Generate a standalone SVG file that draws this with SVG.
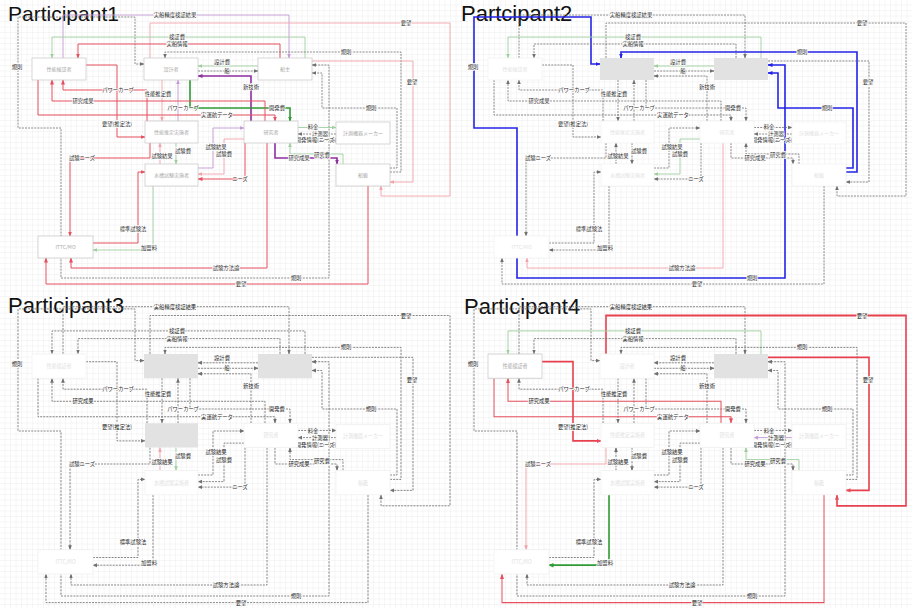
<svg xmlns="http://www.w3.org/2000/svg" width="912" height="608" viewBox="0 0 912 608">
<style>
.tt{font-family:"Liberation Sans",Arial,sans-serif;font-size:21px;fill:#111}
.tt2{font-family:"Liberation Sans",Arial,sans-serif;font-size:22px;fill:#111}
.ln{fill:none}
.gd{stroke:#707070;stroke-width:.8;stroke-dasharray:2 1.1;marker-end:url(#mGray)}
.red{stroke:#e6505e;stroke-width:1;marker-end:url(#mRed)}
.redb{stroke:#e8404f;stroke-width:1.6;marker-end:url(#mRed)}
.pink{stroke:#f2a3ab;stroke-width:.9;marker-end:url(#mPink)}
.grn{stroke:#2e9b33;stroke-width:1.6;marker-end:url(#mGreen)}
.lgrn{stroke:#9fcf9f;stroke-width:.9;marker-end:url(#mLGreen)}
.pur{stroke:#8e2ea0;stroke-width:1.6;marker-end:url(#mPurple)}
.lpur{stroke:#c29ad6;stroke-width:.9;marker-end:url(#mLPurple)}
.blue{stroke:#2323e6;stroke-width:1.6;marker-end:url(#mBlue)}
.sg{marker-start:url(#mGray)}
.sb{marker-start:url(#mBlue)}
.lb{font-family:"Noto Sans CJK JP","Noto Sans",sans-serif;font-size:5.3px;fill:#2a2a2a;text-anchor:middle;stroke:#fff;stroke-width:1.5px;paint-order:stroke;stroke-linejoin:round}
.nt{font-family:"Noto Sans CJK JP","Noto Sans",sans-serif;font-size:5px;text-anchor:middle}
.nd rect{fill:#fff;stroke:#c6c6c6;stroke-width:.7}
.nd text{fill:#a8a8a8}
.nf rect{fill:#fff;stroke:#f0f0f0;stroke-width:.7}
.nf text{fill:#e2e2e2}
.ng rect{fill:#e2e2e2;stroke:none}
</style>
<defs>
<pattern id="grid" width="5.5" height="5.5" patternUnits="userSpaceOnUse"><path d="M5.5 0V5.5H0" fill="none" stroke="#e4e4e4" stroke-width=".6"/></pattern>
<marker id="mGray" viewBox="0 0 10 10" refX="9" refY="5" markerWidth="4.5" markerHeight="4.5" markerUnits="userSpaceOnUse" orient="auto-start-reverse"><path d="M0 1L10 5L0 9z" fill="#707070"/></marker>
<marker id="mRed" viewBox="0 0 10 10" refX="9" refY="5" markerWidth="5" markerHeight="5" markerUnits="userSpaceOnUse" orient="auto-start-reverse"><path d="M0 1L10 5L0 9z" fill="#e6505e"/></marker>
<marker id="mPink" viewBox="0 0 10 10" refX="9" refY="5" markerWidth="4.5" markerHeight="4.5" markerUnits="userSpaceOnUse" orient="auto-start-reverse"><path d="M0 1L10 5L0 9z" fill="#f2a3ab"/></marker>
<marker id="mGreen" viewBox="0 0 10 10" refX="9" refY="5" markerWidth="5" markerHeight="5" markerUnits="userSpaceOnUse" orient="auto-start-reverse"><path d="M0 1L10 5L0 9z" fill="#2e9b33"/></marker>
<marker id="mLGreen" viewBox="0 0 10 10" refX="9" refY="5" markerWidth="4.5" markerHeight="4.5" markerUnits="userSpaceOnUse" orient="auto-start-reverse"><path d="M0 1L10 5L0 9z" fill="#9fcf9f"/></marker>
<marker id="mPurple" viewBox="0 0 10 10" refX="9" refY="5" markerWidth="5" markerHeight="5" markerUnits="userSpaceOnUse" orient="auto-start-reverse"><path d="M0 1L10 5L0 9z" fill="#8e2ea0"/></marker>
<marker id="mLPurple" viewBox="0 0 10 10" refX="9" refY="5" markerWidth="4.5" markerHeight="4.5" markerUnits="userSpaceOnUse" orient="auto-start-reverse"><path d="M0 1L10 5L0 9z" fill="#c29ad6"/></marker>
<marker id="mBlue" viewBox="0 0 10 10" refX="9" refY="5" markerWidth="5" markerHeight="5" markerUnits="userSpaceOnUse" orient="auto-start-reverse"><path d="M0 1L10 5L0 9z" fill="#2323e6"/></marker>
<path id="c1" d="M63 58V15H289V58"/>
<path id="c2" d="M312 65H329V278H61V128H18V17H135V64H144"/>
<path id="c3" d="M150 58V23H450V196H381V186"/>
<path id="c4" d="M305 58V37H52V58"/>
<path id="c5" d="M280 58V44H78V58"/>
<path id="c6" d="M390 172H401V52H165V58"/>
<path id="c7" d="M258 66H198"/>
<path id="c8" d="M198 71H258"/>
<path id="c9" d="M251 121V76H198"/>
<path id="c10" d="M312 61H413V182H390"/>
<path id="c11" d="M390 168H397V108H322V73H312"/>
<path id="c12" d="M147 121V90H63V80"/>
<path id="c13" d="M162 80V121"/>
<path id="c14" d="M178 121V80"/>
<path id="c15" d="M190 80V108H290V121"/>
<path id="c16" d="M265 121V101H52V80"/>
<path id="c17" d="M38 80V115H275V121"/>
<path id="c18" d="M86 65H117V137H145"/>
<path id="c19" d="M298 127.5H336"/>
<path id="c20" d="M336 134H298"/>
<path id="c21" d="M298 140.5H336"/>
<path id="c22" d="M275 143V158H337V164"/>
<path id="c23" d="M343 164V154H290V143"/>
<path id="c24" d="M150 143V158H70V236"/>
<path id="c25" d="M160 164V143"/>
<path id="c26" d="M176 143V164"/>
<path id="c27" d="M198 168H213V128H244"/>
<path id="c28" d="M244 139H224V174H198"/>
<path id="c29" d="M245 143V179H198"/>
<path id="c30" d="M93 243H138V172H145"/>
<path id="c31" d="M153 186V250H93"/>
<path id="c32" d="M267 143V268H71V258"/>
<path id="c33" d="M368 186V284H46V258"/>
</defs>
<rect width="912" height="608" fill="#fff"/>
<rect width="912" height="608" fill="url(#grid)"/>

<!-- ================= PANEL 1 ================= -->
<g id="panel1">
<text class="tt" x="8" y="21">Participant1</text>
<g id="p1-connectors">
<use href="#c1" class="ln lpur"/><use href="#c2" class="ln gd sg"/><use href="#c3" class="ln pink"/><use href="#c4" class="ln lgrn"/><use href="#c5" class="ln red"/><use href="#c6" class="ln gd"/><use href="#c7" class="ln lgrn"/><use href="#c8" class="ln gd"/><use href="#c9" class="ln pur"/><use href="#c10" class="ln pink"/><use href="#c11" class="ln gd"/><use href="#c12" class="ln red"/><use href="#c13" class="ln pink"/><use href="#c14" class="ln lpur"/><use href="#c15" class="ln grn"/><use href="#c16" class="ln red"/><use href="#c17" class="ln red"/><use href="#c18" class="ln red"/><use href="#c19" class="ln lgrn"/><use href="#c20" class="ln gd"/><use href="#c21" class="ln gd"/><use href="#c22" class="ln pur"/><use href="#c23" class="ln lgrn"/><use href="#c24" class="ln red"/><use href="#c25" class="ln pink"/><use href="#c26" class="ln lgrn"/><use href="#c27" class="ln lpur"/><use href="#c28" class="ln pink"/><use href="#c29" class="ln red"/><use href="#c30" class="ln red"/><use href="#c31" class="ln lgrn"/><use href="#c32" class="ln red"/><use href="#c33" class="ln red"/>
<text class="lb" x="175" y="16.9">実船精度検証結果</text><text class="lb" x="406" y="24.9">要望</text><text class="lb" x="177" y="38.9">検証費</text><text class="lb" x="177" y="45.9">実船情報</text><text class="lb" x="346" y="53.9">規則</text><text class="lb" x="222" y="63.9">設計費</text><text class="lb" x="227" y="72.9">船</text><text class="lb" x="17" y="68.9">規則</text><text class="lb" x="251" y="88.9">新技術</text><text class="lb" x="412" y="83.9">要望</text><text class="lb" x="118" y="91.9">パワーカーブ</text><text class="lb" x="158" y="95.9">性能推定費</text><text class="lb" x="83" y="102.9">研究成果</text><text class="lb" x="183" y="109.9">パワーカーブ</text><text class="lb" x="277" y="109.9">開発費</text><text class="lb" x="371" y="109.9">規則</text><text class="lb" x="217" y="116.9">実運航データ</text><text class="lb" x="117" y="125.9">要望(推定法)</text><text class="lb" x="313" y="129.4">料金</text><text class="lb" x="320" y="135.9">計測器</text><text class="lb" x="316" y="142.4">開発情報(ニーズ)</text><text class="lb" x="216" y="148.9">試験結果</text><text class="lb" x="224" y="155.9">試験費</text><text class="lb" x="183" y="152.9">試験費</text><text class="lb" x="162" y="157.9">試験結果</text><text class="lb" x="322" y="156.9">研究費</text><text class="lb" x="299" y="159.9">研究成果</text><text class="lb" x="82" y="159.9">試験ニーズ</text><text class="lb" x="240" y="180.9">ニーズ</text><text class="lb" x="133" y="230.9">標準試験法</text><text class="lb" x="149" y="249.9">加盟料</text><text class="lb" x="226" y="269.9">試験方法論</text><text class="lb" x="296" y="279.9">規則</text><text class="lb" x="241" y="285.9">要望</text>
</g>
<g id="p1-kensho" class="nd"><rect x="32" y="58" width="54" height="22"/><text class="nt" x="59" y="70.7">性能検証者</text></g>
<g id="p1-sekkei" class="nd"><rect x="144" y="58" width="54" height="22"/><text class="nt" x="171" y="70.7">設計者</text></g>
<g id="p1-senshu" class="nd"><rect x="258" y="58" width="54" height="22"/><text class="nt" x="285" y="70.7">船主</text></g>
<g id="p1-suitei" class="nd"><rect x="145" y="121" width="53" height="22"/><text class="nt" x="171.5" y="133.7">性能推定実施者</text></g>
<g id="p1-kenkyu" class="nd"><rect x="244" y="121" width="54" height="22"/><text class="nt" x="271" y="133.7">研究者</text></g>
<g id="p1-keisoku" class="nd"><rect x="336" y="122" width="54" height="22"/><text class="nt" x="363" y="134.7">計測機器メーカー</text></g>
<g id="p1-suiso" class="nd"><rect x="145" y="164" width="53" height="22"/><text class="nt" x="171.5" y="176.7">水槽試験実施者</text></g>
<g id="p1-senkyu" class="nd"><rect x="336" y="164" width="54" height="22"/><text class="nt" x="363" y="176.7">船級</text></g>
<g id="p1-ittc" class="nd"><rect x="38" y="236" width="55" height="22"/><text class="nt" x="65.5" y="248.7">ITTC/MO</text></g>
</g>

<!-- ================= PANEL 2 ================= -->
<g id="panel2" transform="translate(456,0)">
<text class="tt2" x="5" y="21">Partcipant2</text>
<g id="p2-connectors">
<use href="#c1" class="ln gd"/><use href="#c2" class="ln blue sb"/><use href="#c3" class="ln gd"/><use href="#c4" class="ln lgrn"/><use href="#c5" class="ln gd"/><use href="#c6" class="ln blue"/><use href="#c7" class="ln lgrn"/><use href="#c8" class="ln gd"/><use href="#c9" class="ln gd"/><use href="#c10" class="ln gd"/><use href="#c11" class="ln blue"/><use href="#c12" class="ln gd"/><use href="#c13" class="ln gd"/><use href="#c14" class="ln gd"/><use href="#c15" class="ln gd"/><use href="#c16" class="ln gd"/><use href="#c17" class="ln gd"/><use href="#c18" class="ln gd"/><use href="#c19" class="ln gd"/><use href="#c20" class="ln gd"/><use href="#c21" class="ln gd"/><use href="#c22" class="ln gd"/><use href="#c23" class="ln gd"/><use href="#c24" class="ln gd"/><use href="#c25" class="ln gd"/><use href="#c26" class="ln gd"/><use href="#c27" class="ln gd"/><use href="#c28" class="ln lgrn"/><use href="#c29" class="ln gd"/><use href="#c30" class="ln gd"/><use href="#c31" class="ln gd"/><use href="#c32" class="ln pink"/><use href="#c33" class="ln gd"/>
<text class="lb" x="175" y="16.9">実船精度検証結果</text><text class="lb" x="406" y="24.9">要望</text><text class="lb" x="177" y="38.9">検証費</text><text class="lb" x="177" y="45.9">実船情報</text><text class="lb" x="346" y="53.9">規則</text><text class="lb" x="222" y="63.9">設計費</text><text class="lb" x="227" y="72.9">船</text><text class="lb" x="17" y="68.9">規則</text><text class="lb" x="251" y="88.9">新技術</text><text class="lb" x="412" y="83.9">要望</text><text class="lb" x="118" y="91.9">パワーカーブ</text><text class="lb" x="158" y="95.9">性能推定費</text><text class="lb" x="83" y="102.9">研究成果</text><text class="lb" x="183" y="109.9">パワーカーブ</text><text class="lb" x="277" y="109.9">開発費</text><text class="lb" x="371" y="109.9">規則</text><text class="lb" x="217" y="116.9">実運航データ</text><text class="lb" x="117" y="125.9">要望(推定法)</text><text class="lb" x="313" y="129.4">料金</text><text class="lb" x="320" y="135.9">計測器</text><text class="lb" x="316" y="142.4">開発情報(ニーズ)</text><text class="lb" x="216" y="148.9">試験結果</text><text class="lb" x="224" y="155.9">試験費</text><text class="lb" x="183" y="152.9">試験費</text><text class="lb" x="162" y="157.9">試験結果</text><text class="lb" x="322" y="156.9">研究費</text><text class="lb" x="299" y="159.9">研究成果</text><text class="lb" x="82" y="159.9">試験ニーズ</text><text class="lb" x="240" y="180.9">ニーズ</text><text class="lb" x="133" y="230.9">標準試験法</text><text class="lb" x="149" y="249.9">加盟料</text><text class="lb" x="226" y="269.9">試験方法論</text><text class="lb" x="296" y="279.9">規則</text><text class="lb" x="241" y="285.9">要望</text>
</g>
<g id="p2-kensho" class="nf"><rect x="32" y="58" width="54" height="22"/><text class="nt" x="59" y="70.7">性能検証者</text></g>
<g id="p2-sekkei" class="ng"><rect x="144" y="58" width="54" height="22"/></g>
<g id="p2-senshu" class="ng"><rect x="258" y="58" width="54" height="22"/></g>
<g id="p2-suitei" class="nf"><rect x="145" y="121" width="53" height="22"/><text class="nt" x="171.5" y="133.7">性能推定実施者</text></g>
<g id="p2-kenkyu" class="nf"><rect x="244" y="121" width="54" height="22"/><text class="nt" x="271" y="133.7">研究者</text></g>
<g id="p2-keisoku" class="nf"><rect x="336" y="122" width="54" height="22"/><text class="nt" x="363" y="134.7">計測機器メーカー</text></g>
<g id="p2-suiso" class="nf"><rect x="145" y="164" width="53" height="22"/><text class="nt" x="171.5" y="176.7">水槽試験実施者</text></g>
<g id="p2-senkyu" class="nf"><rect x="336" y="164" width="54" height="22"/><text class="nt" x="363" y="176.7">船級</text></g>
<g id="p2-ittc" class="nf"><rect x="38" y="236" width="55" height="22"/><text class="nt" x="65.5" y="248.7">ITTC/MO</text></g>
</g>

<!-- ================= PANEL 3 ================= -->
<g id="panel3" transform="translate(0,296)">
<text class="tt2" x="8" y="17">Participant3</text>
<g transform="matrix(1 0 0 1.1 0 -5.8)">
<g id="p3-connectors">
<use href="#c1" class="ln gd"/><use href="#c2" class="ln gd sg"/><use href="#c3" class="ln gd"/><use href="#c4" class="ln gd"/><use href="#c5" class="ln gd"/><use href="#c6" class="ln gd"/><use href="#c7" class="ln gd"/><use href="#c8" class="ln gd"/><use href="#c9" class="ln gd"/><use href="#c10" class="ln gd"/><use href="#c11" class="ln gd"/><use href="#c12" class="ln gd"/><use href="#c13" class="ln gd"/><use href="#c14" class="ln gd"/><use href="#c15" class="ln gd"/><use href="#c16" class="ln gd"/><use href="#c17" class="ln gd"/><use href="#c18" class="ln gd"/><use href="#c19" class="ln gd"/><use href="#c20" class="ln gd"/><use href="#c21" class="ln gd"/><use href="#c22" class="ln gd"/><use href="#c23" class="ln gd"/><use href="#c24" class="ln gd"/><use href="#c25" class="ln pink"/><use href="#c26" class="ln lgrn"/><use href="#c27" class="ln gd"/><use href="#c28" class="ln gd"/><use href="#c29" class="ln gd"/><use href="#c30" class="ln gd"/><use href="#c31" class="ln gd"/><use href="#c32" class="ln gd"/><use href="#c33" class="ln gd"/>
<text class="lb" x="175" y="16.9">実船精度検証結果</text><text class="lb" x="406" y="24.9">要望</text><text class="lb" x="177" y="38.9">検証費</text><text class="lb" x="177" y="45.9">実船情報</text><text class="lb" x="346" y="53.9">規則</text><text class="lb" x="222" y="63.9">設計費</text><text class="lb" x="227" y="72.9">船</text><text class="lb" x="17" y="68.9">規則</text><text class="lb" x="251" y="88.9">新技術</text><text class="lb" x="412" y="83.9">要望</text><text class="lb" x="118" y="91.9">パワーカーブ</text><text class="lb" x="158" y="95.9">性能推定費</text><text class="lb" x="83" y="102.9">研究成果</text><text class="lb" x="183" y="109.9">パワーカーブ</text><text class="lb" x="277" y="109.9">開発費</text><text class="lb" x="371" y="109.9">規則</text><text class="lb" x="217" y="116.9">実運航データ</text><text class="lb" x="117" y="125.9">要望(推定法)</text><text class="lb" x="313" y="129.4">料金</text><text class="lb" x="320" y="135.9">計測器</text><text class="lb" x="316" y="142.4">開発情報(ニーズ)</text><text class="lb" x="216" y="148.9">試験結果</text><text class="lb" x="224" y="155.9">試験費</text><text class="lb" x="183" y="152.9">試験費</text><text class="lb" x="162" y="157.9">試験結果</text><text class="lb" x="322" y="156.9">研究費</text><text class="lb" x="299" y="159.9">研究成果</text><text class="lb" x="82" y="159.9">試験ニーズ</text><text class="lb" x="240" y="180.9">ニーズ</text><text class="lb" x="133" y="230.9">標準試験法</text><text class="lb" x="149" y="249.9">加盟料</text><text class="lb" x="226" y="269.9">試験方法論</text><text class="lb" x="296" y="279.9">規則</text><text class="lb" x="241" y="285.9">要望</text>
</g>
<g id="p3-kensho" class="nf"><rect x="32" y="58" width="54" height="22"/><text class="nt" x="59" y="70.7">性能検証者</text></g>
<g id="p3-sekkei" class="ng"><rect x="144" y="58" width="54" height="22"/></g>
<g id="p3-senshu" class="ng"><rect x="258" y="58" width="54" height="22"/></g>
<g id="p3-suitei" class="ng"><rect x="145" y="121" width="53" height="22"/></g>
<g id="p3-kenkyu" class="nf"><rect x="244" y="121" width="54" height="22"/><text class="nt" x="271" y="133.7">研究者</text></g>
<g id="p3-keisoku" class="nf"><rect x="336" y="122" width="54" height="22"/><text class="nt" x="363" y="134.7">計測機器メーカー</text></g>
<g id="p3-suiso" class="nf"><rect x="145" y="164" width="53" height="22"/><text class="nt" x="171.5" y="176.7">水槽試験実施者</text></g>
<g id="p3-senkyu" class="nf"><rect x="336" y="164" width="54" height="22"/><text class="nt" x="363" y="176.7">船級</text></g>
<g id="p3-ittc" class="nf"><rect x="38" y="236" width="55" height="22"/><text class="nt" x="65.5" y="248.7">ITTC/MO</text></g>
</g>
</g>

<!-- ================= PANEL 4 ================= -->
<g id="panel4" transform="translate(456,296)">
<text class="tt2" x="8" y="18">Participant4</text>
<g transform="matrix(1 0 0 1.1 0 -5.8)">
<g id="p4-connectors">
<use href="#c1" class="ln gd"/><use href="#c2" class="ln gd sg"/><use href="#c3" class="ln redb"/><use href="#c4" class="ln lgrn"/><use href="#c5" class="ln gd"/><use href="#c6" class="ln gd"/><use href="#c7" class="ln gd"/><use href="#c8" class="ln gd"/><use href="#c9" class="ln gd"/><use href="#c10" class="ln redb"/><use href="#c11" class="ln gd"/><use href="#c12" class="ln gd"/><use href="#c13" class="ln gd"/><use href="#c14" class="ln gd"/><use href="#c15" class="ln gd"/><use href="#c16" class="ln red"/><use href="#c17" class="ln red"/><use href="#c18" class="ln redb"/><use href="#c19" class="ln gd"/><use href="#c20" class="ln lpur"/><use href="#c21" class="ln gd"/><use href="#c22" class="ln gd"/><use href="#c23" class="ln lgrn"/><use href="#c24" class="ln pink"/><use href="#c25" class="ln gd"/><use href="#c26" class="ln gd"/><use href="#c27" class="ln gd"/><use href="#c28" class="ln gd"/><use href="#c29" class="ln gd"/><use href="#c30" class="ln gd"/><use href="#c31" class="ln grn"/><use href="#c32" class="ln gd"/><use href="#c33" class="ln red"/>
<text class="lb" x="175" y="16.9">実船精度検証結果</text><text class="lb" x="406" y="24.9">要望</text><text class="lb" x="177" y="38.9">検証費</text><text class="lb" x="177" y="45.9">実船情報</text><text class="lb" x="346" y="53.9">規則</text><text class="lb" x="222" y="63.9">設計費</text><text class="lb" x="227" y="72.9">船</text><text class="lb" x="17" y="68.9">規則</text><text class="lb" x="251" y="88.9">新技術</text><text class="lb" x="412" y="83.9">要望</text><text class="lb" x="118" y="91.9">パワーカーブ</text><text class="lb" x="158" y="95.9">性能推定費</text><text class="lb" x="83" y="102.9">研究成果</text><text class="lb" x="183" y="109.9">パワーカーブ</text><text class="lb" x="277" y="109.9">開発費</text><text class="lb" x="371" y="109.9">規則</text><text class="lb" x="217" y="116.9">実運航データ</text><text class="lb" x="117" y="125.9">要望(推定法)</text><text class="lb" x="313" y="129.4">料金</text><text class="lb" x="320" y="135.9">計測器</text><text class="lb" x="316" y="142.4">開発情報(ニーズ)</text><text class="lb" x="216" y="148.9">試験結果</text><text class="lb" x="224" y="155.9">試験費</text><text class="lb" x="183" y="152.9">試験費</text><text class="lb" x="162" y="157.9">試験結果</text><text class="lb" x="322" y="156.9">研究費</text><text class="lb" x="299" y="159.9">研究成果</text><text class="lb" x="82" y="159.9">試験ニーズ</text><text class="lb" x="240" y="180.9">ニーズ</text><text class="lb" x="133" y="230.9">標準試験法</text><text class="lb" x="149" y="249.9">加盟料</text><text class="lb" x="226" y="269.9">試験方法論</text><text class="lb" x="296" y="279.9">規則</text><text class="lb" x="241" y="285.9">要望</text>
</g>
<g id="p4-kensho" class="nd"><rect x="32" y="58" width="54" height="22"/><text class="nt" x="59" y="70.7">性能検証者</text></g>
<g id="p4-sekkei" class="nf"><rect x="144" y="58" width="54" height="22"/><text class="nt" x="171" y="70.7">設計者</text></g>
<g id="p4-senshu" class="ng"><rect x="258" y="58" width="54" height="22"/></g>
<g id="p4-suitei" class="nf"><rect x="145" y="121" width="53" height="22"/><text class="nt" x="171.5" y="133.7">性能推定実施者</text></g>
<g id="p4-kenkyu" class="nf"><rect x="244" y="121" width="54" height="22"/><text class="nt" x="271" y="133.7">研究者</text></g>
<g id="p4-keisoku" class="nf"><rect x="336" y="122" width="54" height="22"/><text class="nt" x="363" y="134.7">計測機器メーカー</text></g>
<g id="p4-suiso" class="nf"><rect x="145" y="164" width="53" height="22"/><text class="nt" x="171.5" y="176.7">水槽試験実施者</text></g>
<g id="p4-senkyu" class="nf"><rect x="336" y="164" width="54" height="22"/><text class="nt" x="363" y="176.7">船級</text></g>
<g id="p4-ittc" class="nf"><rect x="38" y="236" width="55" height="22"/><text class="nt" x="65.5" y="248.7">ITTC/MO</text></g>
</g>
</g>
</svg>
